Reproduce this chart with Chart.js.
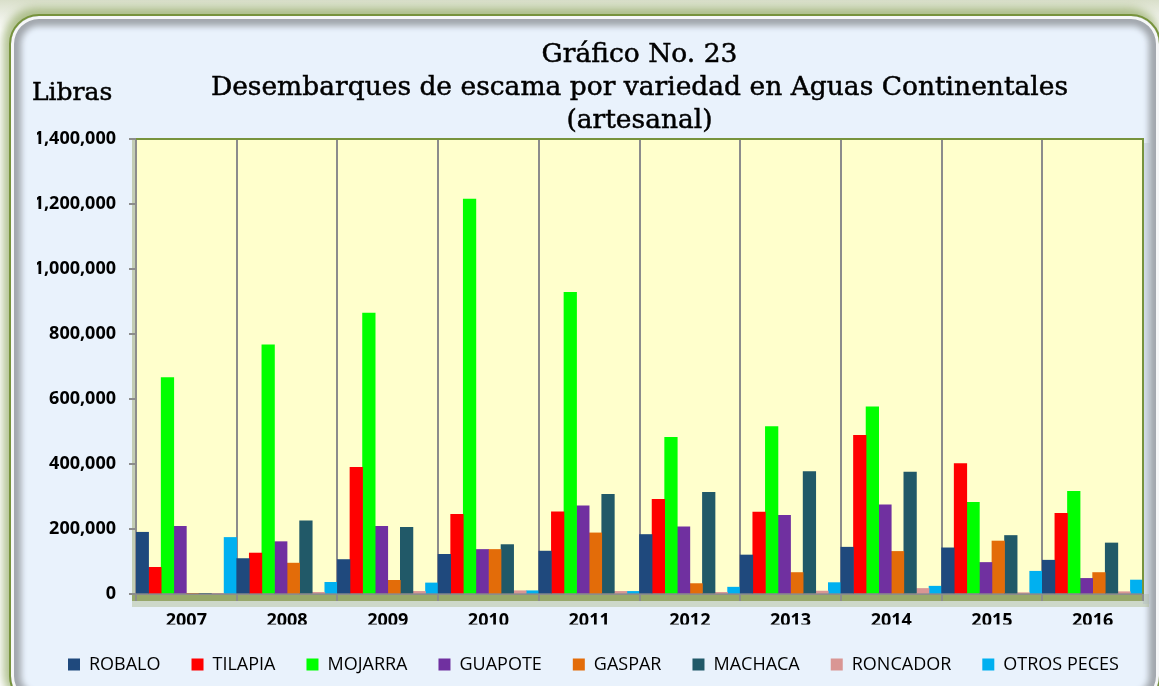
<!DOCTYPE html>
<html><head><meta charset="utf-8">
<script src="https://cdn.jsdelivr.net/npm/chart.js@4.4.0/dist/chart.umd.min.js"></script>
<style>
html,body{margin:0;padding:0;background:#fff;width:1159px;height:686px;overflow:hidden}
#wrap{position:relative;width:1159px;height:686px;overflow:hidden;background:linear-gradient(#d9dfca,#fff 30px)}
#frame{position:absolute;left:9px;top:14px;width:1152px;height:692px;box-sizing:border-box;border:2px solid #77933c;border-radius:30px;background:#e9f2fc;
box-shadow:-3px -3px 9px 3px rgba(119,147,60,0.55), inset 0 0 0 3px #f6f7f8, inset 0 0 5px 9px #a3a8ae, inset 0 0 4px 13px #d5dde6}
#c{position:absolute;left:0;top:0}
</style></head>
<body>
<div id="wrap"><div id="frame"></div><canvas id="c" width="1159" height="686"></canvas></div>
<script>
const years = ['2007','2008','2009','2010','2011','2012','2013','2014','2015','2016'];
const robalo   = [190000,109000,106000,122000,132000,183000,120000,144000,142000,104000];
const tilapia  = [82000,126000,390000,245000,253000,291000,252000,488000,401000,248000];
const mojarra  = [666000,767000,864000,1215000,928000,482000,515000,576000,282000,316000];
const guapote  = [208000,161000,208000,137000,271000,207000,242000,274000,97000,48000];
const gaspar   = [0,95000,42000,137000,188000,32000,66000,131000,163000,66000];
const machaca  = [0,225000,205000,152000,307000,313000,377000,375000,180000,157000];
const roncador = [0,5000,8000,10000,8000,5000,9000,17000,4000,7000];
const otros    = [174000,36000,34000,10000,8000,21000,35000,24000,70000,43000];
const seriesNames = ['ROBALO','TILAPIA','MOJARRA','GUAPOTE','GASPAR','MACHACA','RONCADOR','OTROS PECES'];
const seriesValues = [robalo,tilapia,mojarra,guapote,gaspar,machaca,roncador,otros];
const seriesColors = ['#1f497d','#ff0000','#00ff00','#7030a0','#e36c09','#215968','#d99694','#00b0f0'];
const yMax = 1400000, yStep = 200000;
const titleLines = ['Gráfico No. 23','Desembarques de escama por variedad en Aguas Continentales','(artesanal)'];
const yAxisTitle = 'Libras';

const deco = {
  id:'deco',
  beforeDraw(chart){
    const {ctx, chartArea:a} = chart;
    ctx.save();
    ctx.fillStyle='rgba(170,185,140,0.45)';
    ctx.fillRect(a.left-4, a.bottom, a.right-a.left+10, 13);
    ctx.fillStyle='#97a86a';
    ctx.fillRect(a.left-4, a.bottom, a.right-a.left+4, 7);
    ctx.fillStyle='#c3cdb4';
    ctx.fillRect(a.left-4, a.top, 4, a.bottom-a.top);
    ctx.fillStyle='rgba(175,185,195,0.35)';
    ctx.fillRect(a.right, a.top+4, 7, a.bottom-a.top+6);
    ctx.fillStyle='#ffffcc';
    ctx.fillRect(a.left, a.top, a.right-a.left, a.bottom-a.top);
    ctx.restore();
  },
  afterDatasetsDraw(chart){
    const {ctx, chartArea:a} = chart;
    ctx.save();
    ctx.strokeStyle='#77933c'; ctx.lineWidth=2;
    ctx.beginPath(); ctx.moveTo(a.left, a.top); ctx.lineTo(a.right, a.top); ctx.lineTo(a.right, a.bottom); ctx.stroke();
    ctx.restore();
  },
  afterDraw(chart){
    const {ctx, chartArea:a} = chart;
    ctx.save();
    ctx.fillStyle='#000'; ctx.strokeStyle='#000'; ctx.lineWidth=0.5;
    ctx.font='26.5px "DejaVu Serif"';
    ctx.textAlign='center'; ctx.textBaseline='alphabetic';
    const cx=(a.left+a.right)/2;
    const base=[62,95,128];
    titleLines.forEach((t,i)=>{ctx.fillText(t,cx,base[i]);ctx.strokeText(t,cx,base[i]);});
    ctx.textAlign='left';
    ctx.font='25px "DejaVu Serif"';
    ctx.fillText(yAxisTitle,32,100); ctx.strokeText(yAxisTitle,32,100);
    ctx.restore();
  }
};

new Chart(document.getElementById('c'), {
  type:'bar',
  data:{
    labels:years,
    datasets:seriesNames.map((n,i)=>({label:n,data:seriesValues[i],backgroundColor:seriesColors[i],borderWidth:0,categoryPercentage:1,barPercentage:1}))
  },
  options:{
    responsive:false, animation:false,
    layout:{padding:{top:139,right:0,left:37,bottom:2.5}},
    scales:{
      y:{min:0,max:yMax,
        ticks:{stepSize:yStep,color:'#000',font:{family:'"Open Sans"',size:18,weight:'bold'},padding:13,callback:v=>v.toLocaleString('en-US')},
        grid:{drawOnChartArea:false,drawTicks:true,tickLength:7,color:'#8c8c8c',lineWidth:2},
        border:{display:true,color:'#8c8c8c',width:2},
        afterFit(s){s.width=99;}
      },
      y2:{position:'right',display:true,grid:{display:false,drawTicks:false},ticks:{display:false},border:{display:false},
        afterFit(s){s.width=16;}
      },
      x:{
        grid:{offset:true,color:'#8c8c8c',lineWidth:2,tickLength:7,drawOnChartArea:true},
        border:{display:true,color:'#8c8c8c',width:2},
        ticks:{color:'#000',font:{family:'"Open Sans"',size:18,weight:'bold'},padding:9},
        afterFit(s){s.height=30.5;}
      }
    },
    plugins:{
      legend:{position:'bottom',align:'start',labels:{boxWidth:12,boxHeight:12,color:'#000',font:{family:'"Open Sans"',size:18},padding:31}},
      tooltip:{enabled:false},
      title:{display:false}
    }
  },
  plugins:[deco]
});
</script>
</body></html>
